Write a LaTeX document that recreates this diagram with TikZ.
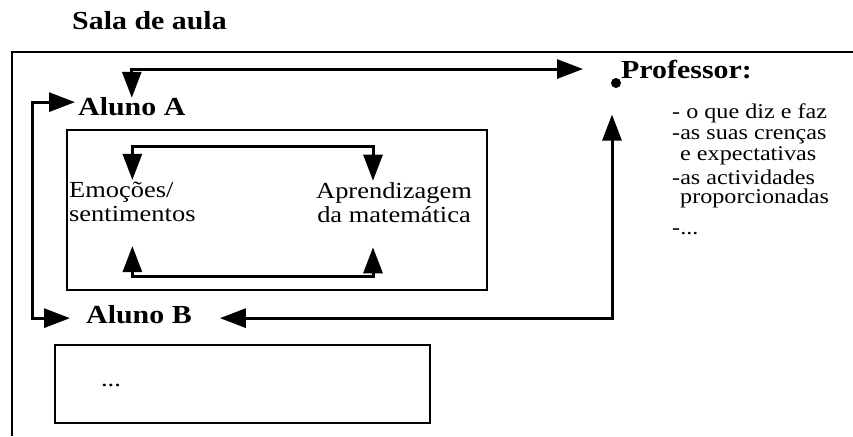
\documentclass[tikz,border=0pt]{standalone}
\usepackage{fontspec}
\setmainfont[FakeStretch=1.15]{Liberation Serif}
\usetikzlibrary{arrows.meta,positioning,calc}

\begin{document}
\begin{tikzpicture}[
    x=1pt, y=-1pt,
    heading/.style={font=\fontsize{26}{28}\selectfont\bfseries, inner sep=3pt, anchor=base west},
    txt/.style={font=\fontsize{23}{24}\selectfont, inner sep=2pt, align=left},
    item/.style={font=\fontsize{21}{20}\selectfont, inner sep=0pt, anchor=base west},
    boxline/.style={draw, line width=2.8pt, inner sep=0pt},
    link/.style={{Triangle[length=26pt,width=19pt]}-{Triangle[length=26pt,width=19pt]}, line width=3pt}
]
\useasboundingbox (0,0) rectangle (853,436);

% sala de aula
\node[heading] (sala) at (69,30) {Sala de aula};
\draw[line width=2pt] (853,52) -- (12,52) -- (12,436);

% alunos
\node[heading] (alunoA) at (75,115) {Aluno A};
\node[heading] (alunoB) at (83,323) {Aluno B};
\node[boxline, minimum width=420pt, minimum height=160pt] (boxA) at (277,210) {};
\node[boxline, minimum width=375pt, minimum height=78pt] (boxB) at (242.5,384) {};
\node[txt] (etc) at (111,385) {...};

\node[txt, anchor=west] (emocoes) at (67,202) {Emoções/\\sentimentos};
\node[txt, align=center] (aprend) at (394,203) {Aprendizagem\\da matemática};

% professor
\node[heading] (prof) at (618,78) {Professor:};
\node[circle, fill, inner sep=0pt, minimum size=10pt] (bullet) at (616,83) {};
\foreach \x/\y/\t [count=\i] in {672/118/{- o que diz e faz}, 672/139/{-as suas crenças},
    680/160/{e expectativas}, 672/184/{-as actividades}, 680/203/{proporcionadas}, 672/234/{-...}}
  \node[item] (item\i) at (\x,\y) {\t};

% ligacoes
\draw[link] (emocoes.north) -- ++(0,-33) -| ([xshift=-21pt]aprend.north);
\draw[link, shorten <=22pt, shorten >=22pt] (emocoes.south) -- ++(0,52) -| ([xshift=-21pt]aprend.south);
\draw[link, shorten >=13pt] ([yshift=4pt]alunoA.west) -- ++(-43,0) |- ([yshift=-4pt]alunoB.west);
\draw[link, shorten >=35pt, shorten <=-4pt] (alunoA.north) |- (prof.west);
\draw[link, shorten <=33pt, shorten >=25pt] ([xshift=-6pt]prof.south west) |- ([yshift=-4pt]alunoB.east);
\end{tikzpicture}
\end{document}
